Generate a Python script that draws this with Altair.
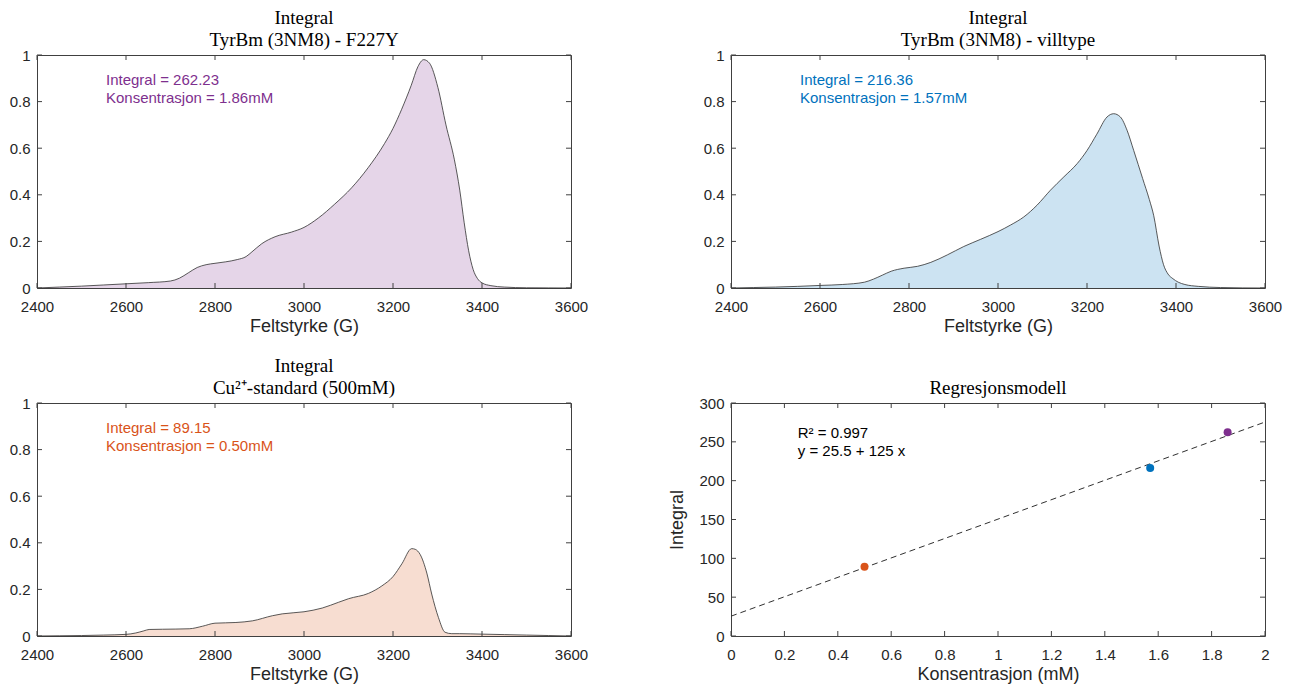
import altair as alt
import pandas as pd

# ---------------- data ----------------
# TyrBm (3NM8) - F227Y
f227y_x = [2400, 2450, 2500, 2550, 2600, 2650, 2700, 2720, 2740, 2760, 2780, 2800, 2823, 2850,
           2870, 2883, 2905, 2935, 2972, 3000, 3032, 3069, 3107, 3144, 3181, 3200, 3219, 3241,
           3256, 3269, 3282, 3301, 3319, 3338, 3350, 3360, 3370, 3380, 3390, 3400, 3420, 3450,
           3500, 3550, 3600]
f227y_y = [0, 0.004, 0.008, 0.013, 0.018, 0.023, 0.03, 0.042, 0.065, 0.088, 0.1, 0.106, 0.112,
           0.122, 0.135, 0.155, 0.19, 0.22, 0.24, 0.26, 0.30, 0.36, 0.43, 0.516, 0.62, 0.685,
           0.765, 0.87, 0.95, 0.98, 0.965, 0.86, 0.70, 0.55, 0.42, 0.28, 0.16, 0.08, 0.04, 0.022,
           0.01, 0.004, 0.001, 0.0005, 0]

# TyrBm (3NM8) - villtype
wt_x = [2400, 2450, 2500, 2550, 2600, 2650, 2700, 2720, 2740, 2760, 2789, 2819, 2849, 2886, 2923,
        2961, 3000, 3028, 3058, 3088, 3118, 3148, 3178, 3200, 3222, 3245, 3260, 3275, 3290, 3305,
        3325, 3340, 3350, 3362, 3372, 3382, 3393, 3405, 3420, 3450, 3500, 3550, 3600]
wt_y = [0, 0.002, 0.004, 0.007, 0.011, 0.015, 0.025, 0.038, 0.055, 0.072, 0.085, 0.093, 0.11,
        0.142, 0.178, 0.209, 0.242, 0.27, 0.305, 0.356, 0.42, 0.477, 0.534, 0.59, 0.66, 0.734,
        0.748, 0.734, 0.677, 0.59, 0.47, 0.38, 0.31, 0.18, 0.10, 0.06, 0.04, 0.025, 0.015, 0.007,
        0.002, 0.0005, 0]

# Cu2+-standard (500mM)
cu_x = [2400, 2450, 2500, 2550, 2600, 2622, 2640, 2652, 2682, 2742, 2772, 2800, 2847, 2884, 2929,
        2951, 3000, 3041, 3078, 3100, 3145, 3175, 3200, 3220, 3242, 3250, 3261, 3276, 3287, 3302,
        3317, 3332, 3350, 3400, 3450, 3500, 3550, 3600]
cu_y = [0, 0.001, 0.002, 0.004, 0.007, 0.013, 0.022, 0.028, 0.029, 0.031, 0.042, 0.055, 0.058,
        0.065, 0.087, 0.095, 0.104, 0.12, 0.145, 0.16, 0.183, 0.215, 0.255, 0.31, 0.375, 0.372,
        0.35, 0.27, 0.18, 0.08, 0.016, 0.01, 0.01, 0.008, 0.006, 0.004, 0.002, 0]

# regression
conc = [0.50, 1.57, 1.86]
integrals = [89.15, 216.36, 262.23]
point_colors = ["#D95319", "#0072BD", "#7E2F8E"]
fit_x = [0, 2]
fit_y = [25.5, 275.5]

# tick values
field_ticks = [2400, 2600, 2800, 3000, 3200, 3400, 3600]
unit_ticks = [0, 0.2, 0.4, 0.6, 0.8, 1]
conc_ticks = [0, 0.2, 0.4, 0.6, 0.8, 1, 1.2, 1.4, 1.6, 1.8, 2]
int_ticks = [0, 50, 100, 150, 200, 250, 300]

# annotations
ann_x = 2555
ann_y = [0.894, 0.816]
reg_ann_x = 0.25
reg_ann_y = [262, 238]

# ---------------- styling ----------------
W, H = 534, 233
FRAME = "#404040"
TXT = "#262626"
SANS = "Liberation Sans"
SERIF = "Liberation Serif"
PURPLE, BLUE, ORANGE = "#7E2F8E", "#0072BD", "#D95319"


def title(lines):
    return alt.TitleParams(text=lines, font=SERIF, fontSize=19, fontWeight="normal",
                           color="#000000", lineHeight=22, offset=-21, baseline="bottom",
                           frame="group", anchor="middle")


def inner_ticks(xvals, yvals, X, Y):
    dx = pd.DataFrame({"tx": xvals})
    dy = pd.DataFrame({"ty": yvals})
    rx = alt.Chart(dx).mark_rule(color=FRAME, strokeWidth=1)
    ry = alt.Chart(dy).mark_rule(color=FRAME, strokeWidth=1)
    Xt = X("tx:Q")
    Yt = Y("ty:Q")
    return [
        rx.encode(x=Xt, y=alt.value(H), y2=alt.value(H - 5)),
        rx.encode(x=Xt, y=alt.value(0), y2=alt.value(5)),
        ry.encode(y=Yt, x=alt.value(0), x2=alt.value(5)),
        ry.encode(y=Yt, x=alt.value(W), x2=alt.value(W - 5)),
    ]


def enc_factory(domain, ticks, fmt, ttl, channel):
    scale = alt.Scale(domain=domain, nice=False, zero=False)
    axis = alt.Axis(values=ticks, format=fmt, title=ttl)
    return lambda f: channel(f, scale=scale, axis=axis)


def spectrum(xv, yv, color, integral, conc_txt, lines):
    df = pd.DataFrame({"x": xv, "y": yv})
    X = enc_factory([2400, 3600], field_ticks, "d", "Feltstyrke (G)", alt.X)
    Y = enc_factory([0, 1], unit_ticks, "~g", None, alt.Y)
    area = alt.Chart(df).mark_area(color=color, opacity=0.2, interpolate="monotone").encode(
        x=X("x:Q"), y=Y("y:Q"))
    line = alt.Chart(df).mark_line(color="#303030", strokeWidth=0.8,
                                   interpolate="monotone").encode(x=X("x:Q"), y=Y("y:Q"))
    ann = pd.DataFrame({"x": [ann_x, ann_x], "y": ann_y,
                        "t": [f"Integral = {integral}", f"Konsentrasjon = {conc_txt}"]})
    text = alt.Chart(ann).mark_text(align="left", baseline="middle", font=SANS, fontSize=15,
                                    color=color).encode(x=X("x:Q"), y=Y("y:Q"), text="t:N")
    return alt.layer(area, line, text, *inner_ticks(field_ticks, unit_ticks, X, Y)).properties(
        width=W, height=H, title=title(lines))


tl = spectrum(f227y_x, f227y_y, PURPLE, "262.23", "1.86mM", ["Integral", "TyrBm (3NM8) - F227Y"])
tr = spectrum(wt_x, wt_y, BLUE, "216.36", "1.57mM", ["Integral", "TyrBm (3NM8) - villtype"])
bl = spectrum(cu_x, cu_y, ORANGE, "89.15", "0.50mM", ["Integral", "Cu²⁺-standard (500mM)"])

# regression panel
Xr = enc_factory([0, 2], conc_ticks, "~g", "Konsentrasjon (mM)", alt.X)
Yr = enc_factory([0, 300], int_ticks, "d", "Integral", alt.Y)
fit_df = pd.DataFrame({"x": fit_x, "y": fit_y})
pts_df = pd.DataFrame({"x": conc, "y": integrals, "c": point_colors})
fit = alt.Chart(fit_df).mark_line(color="#303030", strokeWidth=1, strokeDash=[6, 4]).encode(
    x=Xr("x:Q"), y=Yr("y:Q"))
pts = alt.Chart(pts_df).mark_circle(size=64, opacity=1).encode(
    x=Xr("x:Q"), y=Yr("y:Q"), color=alt.Color("c:N", scale=None))
reg_ann = pd.DataFrame({"x": [reg_ann_x, reg_ann_x], "y": reg_ann_y,
                        "t": ["R² = 0.997", "y = 25.5 + 125 x"]})
reg_text = alt.Chart(reg_ann).mark_text(align="left", baseline="middle", font=SANS,
                                        fontSize=15, color="#000000").encode(
    x=Xr("x:Q"), y=Yr("y:Q"), text="t:N")
br = alt.layer(fit, pts, reg_text, *inner_ticks(conc_ticks, int_ticks, Xr, Yr)).properties(
    width=W, height=H, title=title(["Regresjonsmodell"]))

chart = alt.concat(tl, tr, bl, br, columns=2, bounds="flush", align="each",
                   spacing=alt.RowColnumber(row=115, column=160)).properties(
    background="white",
    padding={"left": 0, "top": 0, "right": 0, "bottom": 0},
).configure_axis(
    labelFont=SANS, labelFontSize=15, labelColor=TXT, titleFont=SANS, titleFontSize=18,
    titleFontWeight="normal", titleColor=TXT, ticks=False, domain=False, grid=False,
    labelOverlap=False, labelFlush=False
).configure_axisX(labelPadding=11, titlePadding=3).configure_axisY(
    labelPadding=7, titlePadding=12
).configure_view(stroke=FRAME, strokeWidth=1)

chart.save("out.html", embed_options={"renderer": "svg", "actions": False})
